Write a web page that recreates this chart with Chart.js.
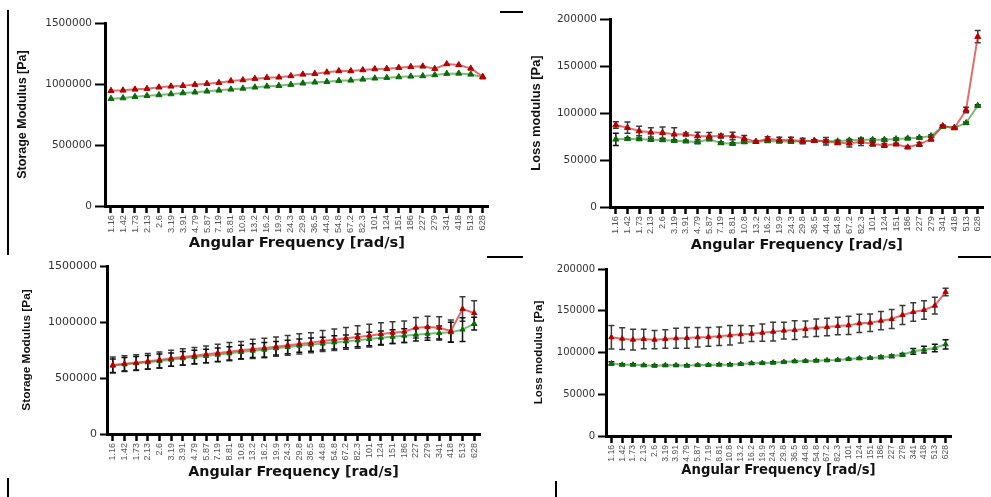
<!DOCTYPE html>
<html>
<head>
<meta charset="utf-8">
<script src="https://cdn.jsdelivr.net/npm/chart.js"></script>
<style>
  body { margin: 0; background: #fff; }
  #page { position: relative; width: 991px; height: 497px; overflow: hidden; background: #fff; }
  canvas { position: absolute; }
  .mark { position: absolute; background: #000; }
</style>
</head>
<body>
<div id="page">
  <canvas id="c1" width="496" height="252" style="left:0px;top:0px"></canvas>
  <canvas id="c2" width="491" height="254" style="left:500px;top:0px"></canvas>
  <canvas id="c3" width="490" height="231" style="left:0px;top:250px"></canvas>
  <canvas id="c4" width="460" height="228" style="left:500px;top:250px"></canvas>

  <div class="mark" style="left:7px;top:10px;width:2px;height:245px"></div>
  <div class="mark" style="left:7px;top:478px;width:2px;height:19px"></div>
  <div class="mark" style="left:555px;top:481px;width:2px;height:16px"></div>
  <div class="mark" style="left:500px;top:11px;width:23px;height:2px"></div>
  <div class="mark" style="left:487px;top:256px;width:36px;height:2px"></div>
  <div class="mark" style="left:958px;top:256px;width:33px;height:2px"></div>
</div>
<script>
// angular frequency categories (rad/s)
const freqLabels = ['1.16', '1.42', '1.73', '2.13', '2.6', '3.19', '3.91', '4.79', '5.87', '7.19',
  '8.81', '10.8', '13.2', '16.2', '19.9', '24.3', '29.8', '36.5', '44.8', '54.8', '67.2', '82.3',
  '101', '124', '151', '186', '227', '279', '341', '418', '513', '628'];

const storageTicks = [0, 500000, 1000000, 1500000];
const lossTicks = [0, 50000, 100000, 150000, 200000];

// top left - storage modulus
const storage1Red = [945000, 948000, 956000, 962000, 973000, 981000, 986000, 995000, 1003000, 1011000,
  1025000, 1033000, 1044000, 1052000, 1055000, 1066000, 1079000, 1085000, 1096000, 1107000, 1107000,
  1115000, 1123000, 1126000, 1134000, 1142000, 1145000, 1126000, 1164000, 1156000, 1128000, 1060000];
const storage1Green = [880000, 885000, 896000, 904000, 910000, 918000, 926000, 932000, 940000, 948000,
  956000, 964000, 973000, 981000, 986000, 995000, 1006000, 1014000, 1019000, 1027000, 1030000,
  1038000, 1047000, 1052000, 1057000, 1063000, 1066000, 1074000, 1085000, 1087000, 1079000, 1055000];

// top right - loss modulus
const loss1Red = [87200, 84400, 80800, 79400, 79100, 77300, 77300, 75500, 75200, 75500, 75500, 73000,
  69500, 72700, 71300, 71300, 70200, 70600, 69900, 68400, 67700, 69500, 67000, 65600, 66700, 63500,
  66700, 72300, 86200, 84000, 103200, 181200];
const loss1RedErr = [3500, 6000, 5000, 5000, 6000, 7000, 1500, 4000, 4000, 2000, 4000, 3000, 1000, 2000,
  3000, 3000, 3000, 1000, 4000, 2000, 4000, 4000, 2000, 2000, 1000, 1000, 2000, 2000, 1000, 1000, 3000, 6500];
const loss1Green = [72000, 72700, 72300, 71600, 71300, 70600, 69900, 68800, 72000, 68100, 67400, 69100,
  69500, 70200, 69900, 69500, 69900, 70600, 70200, 69900, 70900, 71600, 71600, 71600, 72300, 73000,
  73800, 75500, 85500, 84400, 89400, 107800];
const loss1GreenErr = [6500, 1000, 1000, 1000, 1000, 1000, 1000, 1000, 1000, 1000, 1000, 1000, 1000, 1000,
  1000, 1000, 1000, 1000, 1000, 1000, 1000, 1000, 1000, 1000, 1000, 1000, 1000, 1000, 1000, 1000, 1000, 1000];

// bottom left - storage modulus
const storage2Red = [616000, 628000, 637000, 649000, 661000, 676000, 687000, 699000, 711000, 723000,
  735000, 747000, 759000, 768000, 780000, 792000, 804000, 815000, 830000, 842000, 854000, 866000,
  878000, 893000, 905000, 914000, 949000, 955000, 949000, 920000, 1116000, 1080000];
const storage2RedErr = [72000, 70000, 70000, 70000, 72000, 72000, 74000, 74000, 74000, 78000, 82000,
  80000, 86000, 88000, 86000, 88000, 90000, 90000, 94000, 96000, 98000, 100000, 102000, 100000, 98000,
  96000, 92000, 96000, 98000, 98000, 110000, 110000];
const storage2Green = [610000, 622000, 631000, 640000, 652000, 664000, 676000, 687000, 696000, 708000,
  720000, 732000, 744000, 753000, 765000, 777000, 789000, 798000, 807000, 818000, 827000, 836000,
  848000, 860000, 869000, 878000, 887000, 896000, 902000, 908000, 932000, 985000];
const storage2GreenErr = [60000, 60000, 60000, 60000, 62000, 60000, 60000, 60000, 60000, 60000, 60000,
  60000, 62000, 65000, 60000, 60000, 60000, 60000, 57000, 60000, 57000, 57000, 60000, 60000, 62000,
  62000, 57000, 60000, 62000, 89000, 107000, 57000];

// bottom right - loss modulus
const loss2Red = [118200, 116600, 115400, 116200, 115400, 116200, 117000, 117400, 118200, 118600, 119400,
  120600, 121800, 122600, 123800, 125000, 126200, 126900, 128100, 129700, 130500, 131700, 132500,
  134900, 135700, 138100, 140100, 144900, 148500, 150900, 156100, 172500];
const loss2RedErr = [14000, 13000, 12400, 11600, 11000, 11000, 12000, 12400, 11600, 11200, 11000, 11600,
  10400, 9500, 10400, 11200, 10000, 11200, 9500, 10500, 10500, 10500, 11000, 11000, 10500, 11000, 11500,
  11500, 11000, 11000, 10000, 4500];
const loss2Green = [87000, 85400, 85400, 84600, 84200, 84600, 84600, 84200, 85000, 85000, 85400, 85400,
  86200, 87000, 87400, 87800, 88600, 89400, 89800, 90200, 90600, 91000, 92200, 93000, 93400, 94200,
  95400, 97400, 101400, 103400, 105400, 109800];
const loss2GreenErr = [2000, 1000, 1000, 1000, 1000, 1000, 1000, 1000, 1000, 1000, 1000, 1000, 1000, 1000,
  1000, 1000, 1000, 1000, 1000, 1000, 1000, 1000, 1000, 1000, 1000, 1500, 1500, 1500, 3500, 4000, 4500, 5600];

const RED_LINE = 'rgba(210, 50, 50, 0.7)';
const RED_MARK = '#b00000';
const GREEN_LINE = 'rgba(40, 140, 40, 0.6)';
const GREEN_MARK = '#0b6b0b';

// draws the +/- error bars through the y scale, behind the markers
const errorBars = {
  id: 'errorBars',
  beforeDatasetsDraw(chart) {
    const ctx = chart.ctx;
    const yScale = chart.scales.y;
    chart.data.datasets.forEach((ds, i) => {
      if (!ds.errors) return;
      const meta = chart.getDatasetMeta(i);
      ctx.save();
      ctx.strokeStyle = ds.errorColor;
      ctx.lineWidth = 1.5;
      meta.data.forEach((pt, j) => {
        const v = ds.data[j];
        const e = ds.errors[j];
        const top = yScale.getPixelForValue(v + e);
        const bot = yScale.getPixelForValue(v - e);
        ctx.beginPath();
        ctx.moveTo(pt.x, top);
        ctx.lineTo(pt.x, bot);
        ctx.moveTo(pt.x - 3, top);
        ctx.lineTo(pt.x + 3, top);
        ctx.moveTo(pt.x - 3, bot);
        ctx.lineTo(pt.x + 3, bot);
        ctx.stroke();
      });
      ctx.restore();
    });
  }
};

function series(values, errors, line, mark, errColor, radius) {
  return {
    data: values,
    errors: errors,
    errorColor: errColor,
    borderColor: line,
    borderWidth: 2,
    pointStyle: 'triangle',
    pointRadius: radius,
    pointBackgroundColor: mark,
    pointBorderColor: mark,
    pointBorderWidth: 1,
    tension: 0
  };
}

function makePanel(id, p) {
  new Chart(document.getElementById(id), {
    type: 'line',
    data: {
      labels: freqLabels,
      datasets: [
        series(p.red, p.redErr, RED_LINE, RED_MARK, '#3a3a3a', p.radius),
        series(p.green, p.greenErr, GREEN_LINE, GREEN_MARK, '#111', p.radius)
      ]
    },
    options: {
      responsive: false,
      animation: false,
      layout: { padding: p.pad },
      plugins: { legend: { display: false }, tooltip: { enabled: false } },
      scales: {
        x: {
          type: 'category',
          offset: true,
          afterFit: s => { s.height = p.xh; },
          grid: { drawOnChartArea: false, tickLength: 7, tickWidth: 2.5, tickColor: '#000' },
          border: { display: true, color: '#000', width: 3 },
          ticks: {
            autoSkip: false, minRotation: 90, maxRotation: 90, padding: 2,
            color: '#555', font: { family: 'Liberation Sans', size: p.xTick }
          },
          title: {
            display: true, text: 'Angular Frequency [rad/s]', color: '#111', padding: 0,
            font: { family: 'DejaVu Sans', size: p.xTitle, weight: 'bold' }
          }
        },
        y: {
          min: p.ticks[0],
          max: p.ticks[p.ticks.length - 1],
          afterFit: s => { s.width = p.yw; },
          grid: { drawOnChartArea: false, tickLength: p.yTickLen, tickWidth: 2, tickColor: '#000' },
          border: { display: true, color: '#000', width: 3 },
          ticks: {
            stepSize: p.ticks[1] - p.ticks[0],
            padding: 3,
            color: '#333',
            font: { family: 'DejaVu Sans', size: p.yTick },
            callback: v => String(v)
          },
          title: {
            display: true, text: p.yTitle, color: '#111', padding: 0,
            font: { family: 'Liberation Sans', size: p.yTitleSize, weight: 'bold' }
          }
        }
      }
    },
    plugins: [errorBars]
  });
}

makePanel('c1', {
  red: storage1Red, green: storage1Green, redErr: null, greenErr: null,
  ticks: storageTicks, yTitle: 'Storage Modulus [Pa]',
  pad: { left: 15, top: 23, right: 6, bottom: 0 }, yw: 90, xh: 46,
  yTitleSize: 12.5, xTitle: 14.7, yTick: 10.5, xTick: 9.3, yTickLen: 10, radius: 3.5
});

makePanel('c2', {
  red: loss1Red, green: loss1Green, redErr: loss1RedErr, greenErr: loss1GreenErr,
  ticks: lossTicks, yTitle: 'Loss modulus [Pa]',
  pad: { left: 29, top: 19, right: 4, bottom: 0 }, yw: 81, xh: 47,
  yTitleSize: 12.9, xTitle: 14.4, yTick: 10.5, xTick: 9.3, yTickLen: 10, radius: 3.5
});

makePanel('c3', {
  red: storage2Red, green: storage2Green, redErr: storage2RedErr, greenErr: storage2GreenErr,
  ticks: storageTicks, yTitle: 'Storage Modulus [Pa]',
  pad: { left: 20, top: 16, right: 10, bottom: 0 }, yw: 87, xh: 47,
  yTitleSize: 11.8, xTitle: 14.3, yTick: 11, xTick: 9, yTickLen: 7, radius: 3
});

makePanel('c4', {
  red: loss2Red, green: loss2Green, redErr: loss2RedErr, greenErr: loss2GreenErr,
  ticks: lossTicks, yTitle: 'Loss modulus [Pa]',
  pad: { left: 32, top: 19, right: 9, bottom: 0 }, yw: 74, xh: 42,
  yTitleSize: 11.6, xTitle: 13.2, yTick: 10, xTick: 8.6, yTickLen: 8, radius: 3
});
</script>
</body>
</html>
